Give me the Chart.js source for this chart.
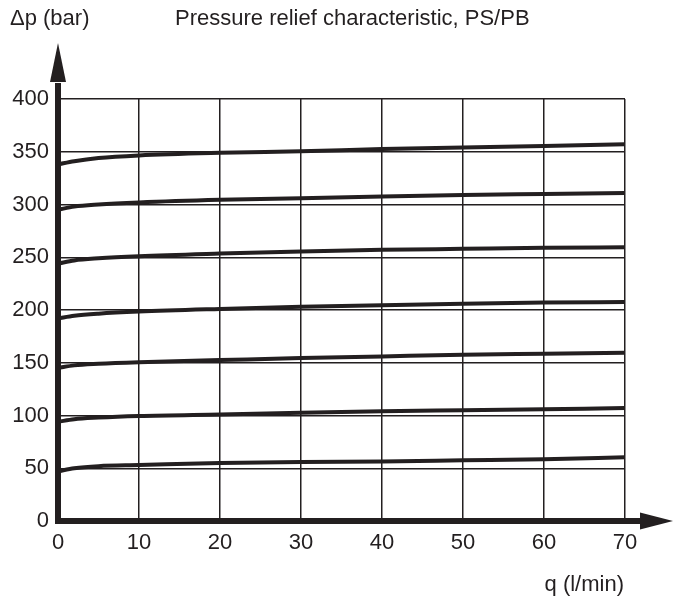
<!DOCTYPE html>
<html>
<head>
<meta charset="utf-8">
<script src="https://cdn.jsdelivr.net/npm/chart.js@4/dist/chart.umd.min.js"></script>
<style>
  html, body { margin: 0; padding: 0; background: #fff; }
  #wrap { width: 677px; height: 598px; }
</style>
</head>
<body>
<div id="wrap"><canvas id="reliefChart"></canvas></div>
<script>
// flow q (l/min) sample points
const flow = [0, 2, 5, 10, 20, 30, 40, 50, 60, 70];

// pressure drop (bar) for each setting
const curve350 = [338, 341, 344, 346.5, 349, 350.5, 352.5, 354, 355.5, 357];
const curve300 = [295, 298, 300, 302, 304.5, 306, 307.5, 309, 310, 311];
const curve250 = [244, 247, 249, 251, 253.5, 255.5, 257, 258, 259, 259.5];
const curve200 = [192, 194.5, 196.5, 198.5, 201, 203, 204.5, 206, 207, 207.5];
const curve150 = [145, 147.5, 149, 150.5, 152.5, 154.5, 156, 157.5, 158.5, 159.5];
const curve100 = [94, 96.5, 98, 99.5, 101, 102.5, 104, 105, 106, 107];
const curve50 = [47, 50, 52, 53, 55, 56, 56.5, 57.5, 58.5, 60.5];

const xTicks = [0, 10, 20, 30, 40, 50, 60, 70];
const yTicks = [0, 50, 100, 150, 200, 250, 300, 350, 400];

const ink = '#231f20';
const font = '"Liberation Sans", Arial, Helvetica, sans-serif';

function series(values) {
    return {
        data: flow.map((q, i) => ({ x: q, y: values[i] })),
        borderColor: ink,
        borderWidth: 4,
        pointRadius: 0,
        cubicInterpolationMode: 'monotone',
        fill: false
    };
}

// thick axes with arrow heads plus the axis captions
const axesPlugin = {
    id: 'arrowAxes',
    afterDraw(chart) {
        const ctx = chart.ctx;
        const area = chart.chartArea;
        const x0 = chart.scales.x.getPixelForValue(0);
        const y0 = chart.scales.y.getPixelForValue(0);

        ctx.save();
        ctx.strokeStyle = ink;
        ctx.fillStyle = ink;
        ctx.lineWidth = 6;
        ctx.lineCap = 'butt';

        ctx.beginPath();
        ctx.moveTo(x0, y0 + 3);
        ctx.lineTo(x0, area.top - 16);
        ctx.moveTo(x0 - 3, y0);
        ctx.lineTo(area.right + 16, y0);
        ctx.stroke();

        // y arrow
        ctx.beginPath();
        ctx.moveTo(x0, area.top - 56);
        ctx.lineTo(x0 - 8, area.top - 17);
        ctx.lineTo(x0 + 8, area.top - 17);
        ctx.closePath();
        ctx.fill();

        // x arrow
        ctx.beginPath();
        ctx.moveTo(area.right + 48, y0);
        ctx.lineTo(area.right + 15, y0 - 8.5);
        ctx.lineTo(area.right + 15, y0 + 8.5);
        ctx.closePath();
        ctx.fill();

        ctx.font = '22px ' + font;
        ctx.textBaseline = 'middle';
        ctx.textAlign = 'left';
        ctx.fillText('\u0394p (bar)', 10, 19);
        ctx.fillText('Pressure relief characteristic, PS/PB', 175, 19);

        ctx.textAlign = 'right';
        ctx.fillText('q (l/min)', 624, 585);
        ctx.restore();
    }
};

var canvas = document.getElementById('reliefChart');
var ctx = canvas.getContext('2d');

var reliefChart = new Chart(ctx, {
    type: 'line',
    data: {
        datasets: [curve350, curve300, curve250, curve200, curve150, curve100, curve50].map(series)
    },
    options: {
        responsive: true,
        maintainAspectRatio: false,
        animation: false,
        layout: {
            padding: { top: 99, right: 52, left: 0, bottom: 0 }
        },
        plugins: {
            legend: { display: false },
            tooltip: { enabled: false }
        },
        scales: {
            x: {
                type: 'linear',
                min: 0,
                max: 70,
                afterBuildTicks: scale => { scale.ticks = xTicks.map(v => ({ value: v })); },
                afterFit: scale => { scale.height = 77; },
                border: { display: false },
                grid: { color: ink, lineWidth: 1.5, drawTicks: false },
                ticks: {
                    color: ink,
                    padding: 9,
                    maxRotation: 0,
                    font: { family: font, size: 22 }
                }
            },
            y: {
                min: 0,
                max: 400,
                afterBuildTicks: scale => { scale.ticks = yTicks.map(v => ({ value: v })); },
                afterFit: scale => { scale.width = 58; },
                border: { display: false },
                grid: { color: ink, lineWidth: 1.5, drawTicks: false },
                ticks: {
                    color: ink,
                    padding: 9,
                    font: { family: font, size: 22 }
                }
            }
        }
    },
    plugins: [axesPlugin]
});
</script>
</body>
</html>
